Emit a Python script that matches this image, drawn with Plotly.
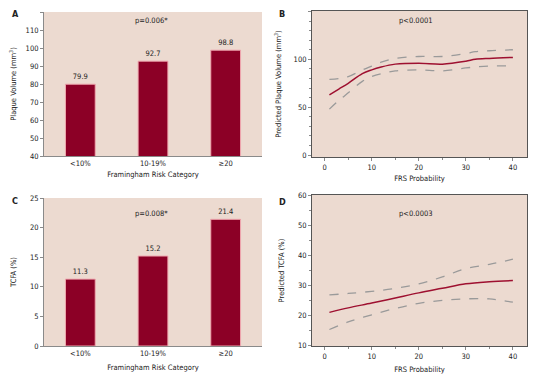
import plotly.graph_objects as go

# ---- data ----
categories = ["<10%", "10-19%", "≥20"]
plaque_volume = [79.9, 92.7, 98.8]
tcfa = [11.3, 15.2, 21.4]

frs_x = [1, 3, 5, 8, 10, 12, 15, 20, 25, 30, 32, 35, 40]
pv_pred = [63, 69, 75, 85, 89, 92, 95, 96, 95, 98, 100, 101, 102]
pv_upper = [79, 80, 82, 89, 93, 97, 101, 103, 103, 106, 108, 109, 110]
pv_lower = [48, 57, 65, 77, 82, 85, 88, 89, 88, 91, 92, 93, 93]

tcfa_x = [1, 5, 10, 15, 20, 25, 30, 35, 40]
tcfa_pred = [21.0, 22.5, 24.1, 25.8, 27.5, 29.0, 30.5, 31.2, 31.6]
tcfa_upper = [26.8, 27.3, 28.0, 29.0, 30.5, 32.8, 35.6, 37.0, 38.7]
tcfa_lower = [15.3, 17.8, 20.2, 22.3, 24.0, 25.0, 25.5, 25.5, 24.4]

BG = "#ecdad0"
BAR = "#8c0026"
LINE = "#9e1030"
DASH = "#9a9a9a"
AX = "#8a8a8a"
FONT = "DejaVu Sans Condensed, Liberation Sans Narrow, Roboto Condensed, Roboto, sans-serif"

fig = go.Figure()

def bar_trace(vals, xa, ya):
    return go.Bar(x=categories, y=vals, xaxis=xa, yaxis=ya, width=0.41,
                  marker=dict(color=BAR, line=dict(color="#f0a8b0", width=1)),
                  text=[f"{v:.1f}" for v in vals], textposition="outside",
                  textfont=dict(family=FONT, size=7.5, color="#222"),
                  cliponaxis=False, showlegend=False)

fig.add_trace(bar_trace(plaque_volume, "x", "y"))
fig.add_trace(bar_trace(tcfa, "x3", "y3"))

def lines(xs, pred, up, lo, xa, ya):
    for arr in (up, lo):
        fig.add_trace(go.Scatter(x=xs, y=arr, xaxis=xa, yaxis=ya, mode="lines",
                                 line=dict(color=DASH, width=1.3, dash="dash", shape="spline"),
                                 showlegend=False))
    fig.add_trace(go.Scatter(x=xs, y=pred, xaxis=xa, yaxis=ya, mode="lines",
                             line=dict(color=LINE, width=1.5, shape="spline"), showlegend=False))

lines(frs_x, pv_pred, pv_upper, pv_lower, "x2", "y2")
lines(tcfa_x, tcfa_pred, tcfa_upper, tcfa_lower, "x4", "y4")

W, H = 546, 378
OFF = 8  # page body margin
def clamp(v): return min(1.0, max(0.0, v))
def px(a): return clamp((a - OFF) / W)
def py(b): return clamp(1 - (b - OFF) / H)
def dx(a, b): return [px(a), px(b)]
def dy(top, bot): return [py(bot), py(top)]

tf = dict(family=FONT, size=7.5, color="#222")
titlef = dict(family=FONT, size=7.5, color="#222")

def cat_x(standoff):
    return dict(type="category", range=[-0.5, 2.5], showline=True, linecolor=AX, linewidth=1,
                ticks="", tickfont=tf, showgrid=False, zeroline=False, automargin=False,
                title=dict(text="Framingham Risk Category", font=titlef, standoff=standoff))

def cont_x(standoff):
    return dict(range=[-2.7, 43], tickvals=[0, 10, 20, 30, 40], showline=True, mirror=True,
                linecolor="#555", linewidth=1, ticks="outside", ticklen=3, tickcolor=AX,
                minor=dict(dtick=5, ticks="outside", ticklen=2, tickcolor=AX),
                tickfont=tf, showgrid=False, zeroline=False, automargin=False,
                title=dict(text="FRS Probability", font=titlef, standoff=standoff))

yc = dict(showline=True, linecolor=AX, ticks="outside", ticklen=3, tickcolor=AX, tickfont=tf,
          showgrid=False, zeroline=False, automargin=False)
yb = dict(showline=True, mirror=True, linecolor="#555", ticks="outside", ticklen=3, tickcolor=AX,
          tickfont=tf, showgrid=False, zeroline=False, automargin=False)

fig.update_layout(
    width=W, height=H, margin=dict(l=0, r=0, t=0, b=0, autoexpand=False),
    paper_bgcolor="white", plot_bgcolor=BG, showlegend=False,
    xaxis=dict(domain=dx(44, 262), anchor="y", **cat_x(4)),
    yaxis=dict(domain=dy(12, 156), anchor="x", range=[40, 120], tickvals=list(range(40, 121, 10)),
               title=dict(text="Plaque Volume (mm<sup>3</sup>)", font=titlef, standoff=8), **yc),
    xaxis3=dict(domain=dx(44, 262), anchor="y3", **cat_x(7)),
    yaxis3=dict(domain=dy(198, 346), anchor="x3", range=[0, 25], dtick=5,
                title=dict(text="TCFA (%)", font=titlef, standoff=12), **yc),
    xaxis2=dict(domain=dx(312, 527), anchor="y2", **cont_x(4)),
    yaxis2=dict(domain=dy(11, 157), anchor="x2", range=[-2, 150.5], tickvals=[0, 50, 100, 150],
                minor=dict(dtick=10, ticks="outside", ticklen=2, tickcolor=AX),
                title=dict(text="Predicted Plaque Volume (mm<sup>3</sup>)", font=titlef, standoff=10), **yb),
    xaxis4=dict(domain=dx(312, 527), anchor="y4", **cont_x(6)),
    yaxis4=dict(domain=dy(195, 346), anchor="x4", range=[9.8, 60.1], tickvals=[10, 20, 30, 40, 50, 60],
                minor=dict(dtick=5, ticks="outside", ticklen=2, tickcolor=AX),
                title=dict(text="Predicted TCFA (%)", font=titlef, standoff=12), **yb),
)

ann = []
for txt, x, y in [("A", 15, 14), ("B", 282, 14), ("C", 15, 201), ("D", 282, 202)]:
    ann.append(dict(text=f"<b>{txt}</b>", x=px(x), y=py(y), xref="paper", yref="paper",
                    xanchor="center", yanchor="middle",
                    showarrow=False, font=dict(family=FONT, size=9, color="#222")))
for txt, x, y in [("p=0.006*", 151, 20), ("p<0.0001", 416, 20), ("p=0.008*", 151, 213), ("p<0.0003", 416, 213)]:
    ann.append(dict(text=txt, x=px(x), y=py(y), xref="paper", yref="paper",
                    xanchor="center", yanchor="middle",
                    showarrow=False, font=dict(family=FONT, size=7.5, color="#222")))
fig.update_layout(annotations=ann)

fig.write_html("out.html")
